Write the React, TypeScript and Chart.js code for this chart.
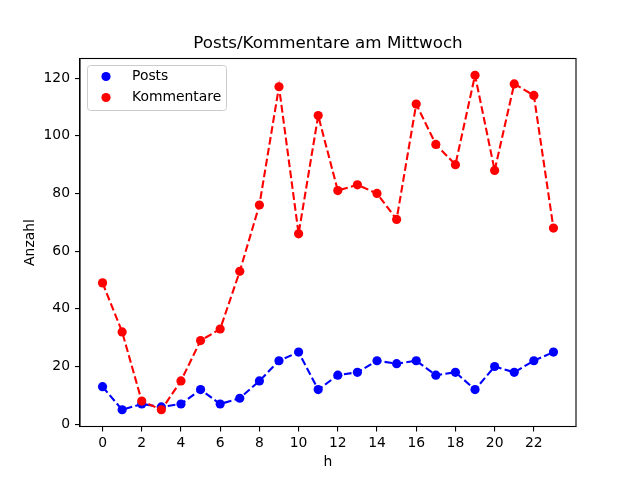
import React, { useEffect, useRef } from 'react';
import { Chart, registerables } from 'chart.js';

Chart.register(...registerables);

const hours = [0, 1, 2, 3, 4, 5, 6, 7, 8, 9, 10, 11, 12, 13, 14, 15, 16, 17, 18, 19, 20, 21, 22, 23];
const posts = [13, 5, 7, 6, 7, 12, 7, 9, 15, 22, 25, 12, 17, 18, 22, 21, 22, 17, 18, 12, 20, 18, 22, 25];
const kommentare = [49, 32, 8, 5, 15, 29, 33, 53, 76, 117, 66, 107, 81, 83, 80, 71, 111, 97, 90, 121, 88, 118, 114, 68];
const xTicks = [0, 2, 4, 6, 8, 10, 12, 14, 16, 18, 20, 22];
const yTicks = [0, 20, 40, 60, 80, 100, 120];
const chartTitle = 'Posts/Kommentare am Mittwoch';

const FONT = 'DejaVu Sans';

// title over the plot area, frame around it and the legend box in the upper left corner
const framePlugin = {
  id: 'frame',
  afterDraw(chart: any) {
    const { ctx, chartArea } = chart;
    ctx.save();
    ctx.fillStyle = '#000';
    ctx.font = `16.7px ${FONT}`;
    ctx.textAlign = 'center';
    ctx.textBaseline = 'middle';
    ctx.fillText(chartTitle, (chartArea.left + chartArea.right) / 2, chartArea.top - 14.5);

    ctx.strokeStyle = '#000';
    ctx.lineWidth = 1.1;
    ctx.strokeRect(chartArea.left, chartArea.top, chartArea.right - chartArea.left, chartArea.bottom - chartArea.top);

    // legend
    const x = chartArea.left + 7.5;
    const y = chartArea.top + 7;
    const w = 139;
    const h = 45;
    ctx.beginPath();
    ctx.roundRect(x, y, w, h, 3);
    ctx.fillStyle = 'rgba(255,255,255,0.8)';
    ctx.fill();
    ctx.strokeStyle = '#cccccc';
    ctx.lineWidth = 1;
    ctx.stroke();

    ctx.font = `13.9px ${FONT}`;
    ctx.textBaseline = 'middle';
    ctx.textAlign = 'left';
    chart.data.datasets.forEach((ds: any, i: number) => {
      const cy = y + 11 + i * 21;
      ctx.beginPath();
      ctx.arc(x + 18.5, cy, 4.6, 0, Math.PI * 2);
      ctx.fillStyle = ds.borderColor;
      ctx.fill();
      ctx.fillStyle = '#000';
      ctx.fillText(ds.label, x + 44.5, cy);
    });
    ctx.restore();
  },
};

export default function App() {
  const canvasRef = useRef<HTMLCanvasElement>(null);
  const chartRef = useRef<Chart | null>(null);

  useEffect(() => {
    if (!canvasRef.current) return;
    const ctx = canvasRef.current.getContext('2d');
    if (!ctx) return;
    if (chartRef.current) chartRef.current.destroy();

    Chart.defaults.color = '#000';
    Chart.defaults.font.family = FONT;

    const lineStyle = {
      borderWidth: 2.1,
      borderDash: [7.7, 3.3],
      pointRadius: 4.6,
      pointBorderWidth: 0,
      tension: 0,
      fill: false,
    };

    chartRef.current = new Chart(ctx, {
      type: 'line',
      data: {
        datasets: [
          {
            label: 'Posts',
            data: hours.map((hr, i) => ({ x: hr, y: posts[i] })),
            borderColor: '#0000ff',
            backgroundColor: '#0000ff',
            pointBackgroundColor: '#0000ff',
            order: 1,
            ...lineStyle,
          },
          {
            label: 'Kommentare',
            data: hours.map((hr, i) => ({ x: hr, y: kommentare[i] })),
            borderColor: '#ff0000',
            backgroundColor: '#ff0000',
            pointBackgroundColor: '#ff0000',
            order: 0,
            ...lineStyle,
          },
        ],
      },
      options: {
        responsive: true,
        maintainAspectRatio: false,
        animation: false,
        layout: { padding: { left: 0, right: 64, top: 58.5, bottom: 0 } },
        plugins: {
          legend: { display: false },
          tooltip: { enabled: false },
          title: { display: false },
        },
        scales: {
          x: {
            type: 'linear',
            min: -1.15,
            max: 24.15,
            afterBuildTicks: (scale: any) => {
              scale.ticks = xTicks.map(v => ({ value: v }));
            },
            afterFit: (scale: any) => {
              scale.height = 53.5;
            },
            grid: { display: true, drawOnChartArea: false, drawTicks: true, tickLength: 5, color: '#000', lineWidth: 1.1 },
            border: { display: true, color: '#000', width: 1.1 },
            ticks: { font: { size: 13.9, family: FONT }, padding: 4, maxRotation: 0, autoSkip: false, callback: (v: any) => String(v) },
            title: {
              display: true,
              text: 'h',
              font: { size: 13.9, family: FONT, lineHeight: 1.2 },
              padding: { top: 0, bottom: 9.7 },
            },
          },
          y: {
            type: 'linear',
            min: -0.8,
            max: 126.8,
            afterBuildTicks: (scale: any) => {
              scale.ticks = yTicks.map(v => ({ value: v }));
            },
            afterFit: (scale: any) => {
              scale.width = 80;
            },
            grid: { display: true, drawOnChartArea: false, drawTicks: true, tickLength: 5, color: '#000', lineWidth: 1.1 },
            border: { display: true, color: '#000', width: 1.1 },
            ticks: { font: { size: 13.9, family: FONT }, padding: 5, autoSkip: false, callback: (v: any) => String(v) },
            title: {
              display: true,
              text: 'Anzahl',
              font: { size: 13.9, family: FONT, lineHeight: 1.2 },
              padding: { top: 21.7, bottom: 0 },
            },
          },
        },
      },
      plugins: [framePlugin],
    } as any);

    return () => {
      if (chartRef.current) {
        chartRef.current.destroy();
        chartRef.current = null;
      }
    };
  }, []);

  return (
    <div style={{ position: 'fixed', left: 0, top: 0, width: '640px', height: '480px', background: '#fff' }}>
      <canvas ref={canvasRef}></canvas>
    </div>
  );
}
